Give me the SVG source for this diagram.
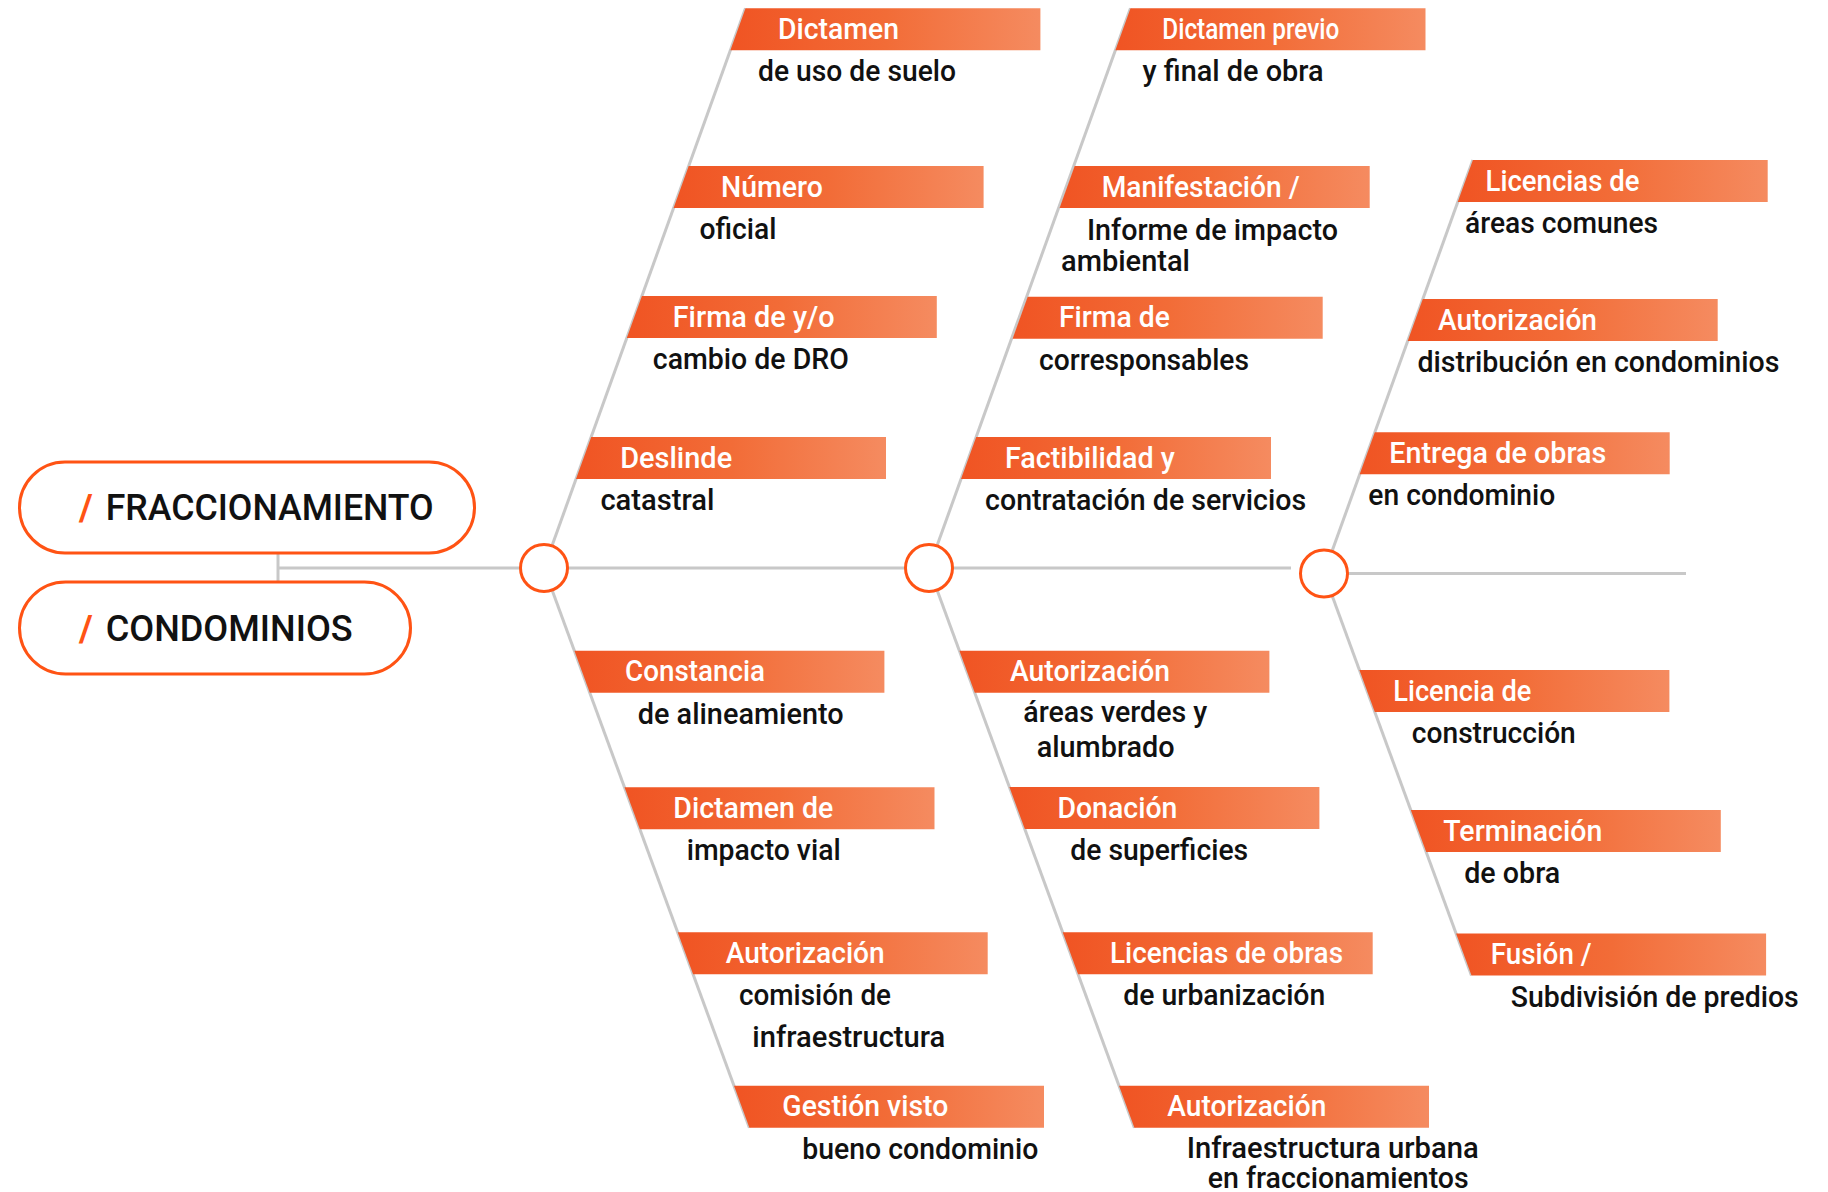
<svg xmlns="http://www.w3.org/2000/svg" width="1828" height="1192" viewBox="0 0 1828 1192">
<defs>
<linearGradient id="g" x1="0" y1="0" x2="1" y2="0">
<stop offset="0" stop-color="#F05423"/>
<stop offset="0.5" stop-color="#F26C37"/>
<stop offset="1" stop-color="#F58B60"/>
</linearGradient>
</defs>
<style>
.bar{fill:url(#g)}
.t{font-family:Roboto,"Liberation Sans",sans-serif;font-size:30px;font-weight:500;fill:#ffffff}
.s{font-family:Roboto,"Liberation Sans",sans-serif;font-size:30px;font-weight:500;fill:#111111}
.p{font-family:Roboto,"Liberation Sans",sans-serif;font-size:37px;font-weight:500;fill:#111111}
.sl{fill:#FF5314;font-weight:700}
.ln{stroke:#C8C8C8;stroke-width:3;fill:none}
.pill{fill:#ffffff;stroke:#FF5314;stroke-width:3}
.hub{fill:#ffffff;stroke:#FF5314;stroke-width:3}
</style>
<rect width="1828" height="1192" fill="#ffffff"/>
<g id="connectors">
<line class="ln" x1="278" y1="553" x2="278" y2="582"/>
<line class="ln" x1="278" y1="568" x2="1291" y2="568"/>
<line class="ln" x1="1324" y1="573.5" x2="1686" y2="573.5"/>
<line class="ln" x1="544" y1="568" x2="745.5" y2="8.3"/>
<line class="ln" x1="544" y1="568" x2="749.4" y2="1127.7"/>
<line class="ln" x1="929" y1="568" x2="1130.5" y2="8.3"/>
<line class="ln" x1="929" y1="568" x2="1134.4" y2="1127.7"/>
<line class="ln" x1="1324" y1="573.5" x2="1472.9" y2="160"/>
<line class="ln" x1="1324" y1="573.5" x2="1471.5" y2="975.5"/>
</g>
<g id="fraccionamiento">
<rect class="pill" x="19.5" y="462" width="455" height="91" rx="45.5"/>
<text class="p" y="520"><tspan class="sl" x="79">/ </tspan><tspan x="105.7" textLength="328" lengthAdjust="spacingAndGlyphs">FRACCIONAMIENTO</tspan></text>
</g>
<g id="condominios">
<rect class="pill" x="19.5" y="582" width="391" height="92" rx="46"/>
<text class="p" y="640.7"><tspan class="sl" x="79">/ </tspan><tspan x="105.7" textLength="247" lengthAdjust="spacingAndGlyphs">CONDOMINIOS</tspan></text>
</g>
<g id="hub1"><circle class="hub" cx="544" cy="568" r="23.5"/></g>
<g id="hub2"><circle class="hub" cx="929" cy="568" r="23.5"/></g>
<g id="hub3"><circle class="hub" cx="1324" cy="573.5" r="23.5"/></g>

<g id="a1">
<polygon class="bar" points="745.5,8.3 1040.4,8.3 1040.4,50.3 730.4,50.3"/>
<text class="t" x="778" y="38.8" textLength="121" lengthAdjust="spacingAndGlyphs">Dictamen</text>
<text class="s" x="758" y="81.3" textLength="198" lengthAdjust="spacingAndGlyphs">de uso de suelo</text>
</g>
<g id="a2">
<polygon class="bar" points="688.7,166 983.6,166 983.6,208 673.6,208"/>
<text class="t" x="721" y="196.5" textLength="102" lengthAdjust="spacingAndGlyphs">Número</text>
<text class="s" x="699.5" y="239" textLength="77" lengthAdjust="spacingAndGlyphs">oficial</text>
</g>
<g id="a3">
<polygon class="bar" points="641.9,296 936.8,296 936.8,338 626.8,338"/>
<text class="t" x="672.7" y="326.5" textLength="162" lengthAdjust="spacingAndGlyphs">Firma de y/o</text>
<text class="s" x="652.8" y="369" textLength="196" lengthAdjust="spacingAndGlyphs">cambio de DRO</text>
</g>
<g id="a4">
<polygon class="bar" points="591.2,437 886,437 886,479 576,479"/>
<text class="t" x="620.2" y="467.5" textLength="112" lengthAdjust="spacingAndGlyphs">Deslinde</text>
<text class="s" x="600.4" y="510" textLength="114" lengthAdjust="spacingAndGlyphs">catastral</text>
</g>
<g id="b1">
<polygon class="bar" points="574.4,650.7 884.4,650.7 884.4,692.7 589.8,692.7"/>
<text class="t" x="625" y="681.2" textLength="140" lengthAdjust="spacingAndGlyphs">Constancia</text>
<text class="s" x="637.7" y="723.7" textLength="206" lengthAdjust="spacingAndGlyphs">de alineamiento</text>
</g>
<g id="b2">
<polygon class="bar" points="624.5,787.3 934.5,787.3 934.5,829.3 639.9,829.3"/>
<text class="t" x="673.3" y="817.8" textLength="160" lengthAdjust="spacingAndGlyphs">Dictamen de</text>
<text class="s" x="686.7" y="860.3" textLength="154" lengthAdjust="spacingAndGlyphs">impacto vial</text>
</g>
<g id="b3">
<polygon class="bar" points="677.7,932.3 987.7,932.3 987.7,974.3 693.1,974.3"/>
<text class="t" x="725.7" y="962.8" textLength="159" lengthAdjust="spacingAndGlyphs">Autorización</text>
<text class="s" x="739" y="1005" textLength="152" lengthAdjust="spacingAndGlyphs">comisión de</text>
<text class="s" x="752.3" y="1047.3" textLength="193" lengthAdjust="spacingAndGlyphs">infraestructura</text>
</g>
<g id="b4">
<polygon class="bar" points="734,1085.7 1044,1085.7 1044,1127.7 749.4,1127.7"/>
<text class="t" x="782.3" y="1116.2" textLength="166" lengthAdjust="spacingAndGlyphs">Gestión visto</text>
<text class="s" x="802.3" y="1158.7" textLength="236" lengthAdjust="spacingAndGlyphs">bueno condominio</text>
</g>

<g id="c1">
<polygon class="bar" points="1130.5,8.3 1425.5,8.3 1425.5,50.3 1115.4,50.3"/>
<text class="t" x="1162.3" y="38.8" textLength="177" lengthAdjust="spacingAndGlyphs">Dictamen previo</text>
<text class="s" x="1142.5" y="81.3" textLength="181" lengthAdjust="spacingAndGlyphs">y final de obra</text>
</g>
<g id="c2">
<polygon class="bar" points="1074.7,166 1369.7,166 1369.7,208 1059.6,208"/>
<text class="t" x="1101.7" y="196.5" textLength="198" lengthAdjust="spacingAndGlyphs">Manifestación /</text>
<text class="s" x="1087" y="240" textLength="251" lengthAdjust="spacingAndGlyphs">Informe de impacto</text>
<text class="s" x="1061" y="270.7" textLength="129" lengthAdjust="spacingAndGlyphs">ambiental</text>
</g>
<g id="c3">
<polygon class="bar" points="1027.7,296.7 1322.7,296.7 1322.7,338.7 1012.6,338.7"/>
<text class="t" x="1059" y="327.2" textLength="111" lengthAdjust="spacingAndGlyphs">Firma de</text>
<text class="s" x="1039" y="369.7" textLength="210" lengthAdjust="spacingAndGlyphs">corresponsables</text>
</g>
<g id="c4">
<polygon class="bar" points="976.2,437 1271,437 1271,479 961,479"/>
<text class="t" x="1004.9" y="467.5" textLength="170" lengthAdjust="spacingAndGlyphs">Factibilidad y</text>
<text class="s" x="985.1" y="510" textLength="321" lengthAdjust="spacingAndGlyphs">contratación de servicios</text>
</g>
<g id="d1">
<polygon class="bar" points="959.4,650.7 1269.4,650.7 1269.4,692.7 974.8,692.7"/>
<text class="t" x="1010" y="681.2" textLength="160" lengthAdjust="spacingAndGlyphs">Autorización</text>
<text class="s" x="1023.3" y="721.7" textLength="184" lengthAdjust="spacingAndGlyphs">áreas verdes y</text>
<text class="s" x="1036.7" y="757.3" textLength="138" lengthAdjust="spacingAndGlyphs">alumbrado</text>
</g>
<g id="d2">
<polygon class="bar" points="1009.4,787 1319.4,787 1319.4,829 1024.8,829"/>
<text class="t" x="1057.4" y="817.5" textLength="120" lengthAdjust="spacingAndGlyphs">Donación</text>
<text class="s" x="1070.2" y="860" textLength="178" lengthAdjust="spacingAndGlyphs">de superficies</text>
</g>
<g id="d3">
<polygon class="bar" points="1062.7,932.3 1372.7,932.3 1372.7,974.3 1078.1,974.3"/>
<text class="t" x="1110" y="962.8" textLength="233" lengthAdjust="spacingAndGlyphs">Licencias de obras</text>
<text class="s" x="1123.3" y="1005" textLength="202" lengthAdjust="spacingAndGlyphs">de urbanización</text>
</g>
<g id="d4">
<polygon class="bar" points="1119,1085.7 1429,1085.7 1429,1127.7 1134.4,1127.7"/>
<text class="t" x="1167.3" y="1116.2" textLength="159" lengthAdjust="spacingAndGlyphs">Autorización</text>
<text class="s" x="1186.7" y="1158.3" textLength="292" lengthAdjust="spacingAndGlyphs">Infraestructura urbana</text>
<text class="s" x="1207.7" y="1187.7" textLength="261" lengthAdjust="spacingAndGlyphs">en fraccionamientos</text>
</g>

<g id="e1">
<polygon class="bar" points="1472.9,160 1767.7,160 1767.7,202 1457.7,202"/>
<text class="t" x="1485.5" y="190.5" textLength="154" lengthAdjust="spacingAndGlyphs">Licencias de</text>
<text class="s" x="1465" y="233" textLength="193" lengthAdjust="spacingAndGlyphs">áreas comunes</text>
</g>
<g id="e2">
<polygon class="bar" points="1422.8,299 1717.7,299 1717.7,341 1407.7,341"/>
<text class="t" x="1438" y="329.5" textLength="159" lengthAdjust="spacingAndGlyphs">Autorización</text>
<text class="s" x="1417.4" y="372" textLength="362" lengthAdjust="spacingAndGlyphs">distribución en condominios</text>
</g>
<g id="e3">
<polygon class="bar" points="1374.8,432.3 1669.7,432.3 1669.7,474.3 1359.7,474.3"/>
<text class="t" x="1389.3" y="462.8" textLength="217" lengthAdjust="spacingAndGlyphs">Entrega de obras</text>
<text class="s" x="1368.3" y="505.3" textLength="187" lengthAdjust="spacingAndGlyphs">en condominio</text>
</g>
<g id="f1">
<polygon class="bar" points="1359.4,670 1669.4,670 1669.4,712 1374.8,712"/>
<text class="t" x="1393.3" y="700.5" textLength="138" lengthAdjust="spacingAndGlyphs">Licencia de</text>
<text class="s" x="1411.8" y="743" textLength="164" lengthAdjust="spacingAndGlyphs">construcción</text>
</g>
<g id="f2">
<polygon class="bar" points="1410.8,810 1720.8,810 1720.8,852 1426.2,852"/>
<text class="t" x="1443.3" y="840.5" textLength="159" lengthAdjust="spacingAndGlyphs">Terminación</text>
<text class="s" x="1464.2" y="883" textLength="96" lengthAdjust="spacingAndGlyphs">de obra</text>
</g>
<g id="f3">
<polygon class="bar" points="1456.1,933.5 1766.1,933.5 1766.1,975.5 1471.5,975.5"/>
<text class="t" x="1490.7" y="964" textLength="101" lengthAdjust="spacingAndGlyphs">Fusión /</text>
<text class="s" x="1510.7" y="1006.5" textLength="288" lengthAdjust="spacingAndGlyphs">Subdivisión de predios</text>
</g>
</svg>
